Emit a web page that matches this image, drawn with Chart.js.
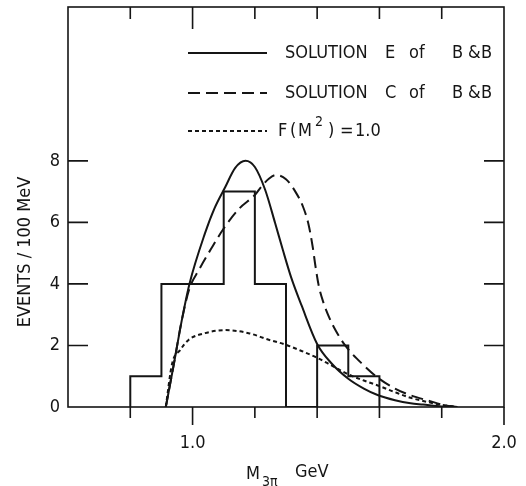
<!DOCTYPE html>
<html lang="en">
<head>
  <meta charset="UTF-8" />
  <title>Events / 100 MeV vs M3pi</title>
  <script src="https://cdn.jsdelivr.net/npm/chart.js"></script>
  <style>
    html, body { margin: 0; padding: 0; background: #fff; }
    #wrap { width: 526px; height: 486px; position: relative; }
  </style>
</head>
<body>
  <div id="wrap"><canvas id="chart"></canvas></div>

  <script>
    // histogram: bin start edges and counts (last entry closes the outline)
    const binEdges = [0.8, 0.8, 0.9, 1.0, 1.1, 1.2, 1.3, 1.4, 1.5, 1.6];
    const binCounts = [0, 1, 4, 4, 7, 4, 0, 2, 1, 0];

    // solution E of B & B (solid)
    const solE_x = [0.914, 0.94, 0.965, 0.99, 1.04, 1.07, 1.105, 1.137, 1.17, 1.20, 1.233, 1.265, 1.29, 1.316, 1.35, 1.40, 1.445, 1.50, 1.55, 1.594, 1.65, 1.70, 1.74, 1.80, 1.83];
    const solE_y = [0, 1.4, 2.8, 4.0, 5.65, 6.45, 7.15, 7.77, 8.0, 7.8, 7.06, 5.98, 5.1, 4.23, 3.3, 2.05, 1.43, 0.92, 0.6, 0.39, 0.22, 0.12, 0.08, 0.02, 0];

    // solution C of B & B (dashed)
    const solC_x = [0.914, 0.94, 0.965, 0.99, 1.02, 1.06, 1.10, 1.15, 1.20, 1.22, 1.245, 1.268, 1.30, 1.33, 1.355, 1.372, 1.385, 1.395, 1.405, 1.42, 1.44, 1.46, 1.49, 1.55, 1.594, 1.65, 1.70, 1.76, 1.80, 1.85];
    const solC_y = [0, 1.4, 2.8, 3.85, 4.45, 5.15, 5.8, 6.45, 6.89, 7.15, 7.42, 7.54, 7.4, 7.0, 6.5, 5.95, 5.25, 4.55, 3.95, 3.4, 2.88, 2.48, 2.0, 1.35, 0.96, 0.6, 0.38, 0.2, 0.08, 0];

    // F(M^2) = 1.0 (dotted)
    const flat_x = [0.914, 0.934, 0.96, 0.987, 1.04, 1.105, 1.18, 1.24, 1.30, 1.35, 1.40, 1.45, 1.50, 1.55, 1.60, 1.65, 1.70, 1.76, 1.80, 1.85];
    const flat_y = [0, 1.4, 1.85, 2.18, 2.4, 2.5, 2.4, 2.2, 2.02, 1.82, 1.6, 1.33, 1.06, 0.86, 0.68, 0.48, 0.3, 0.15, 0.07, 0];

    const yTicks = [2, 4, 6, 8];
    const xTicksTop = [0.8, 1.0, 1.2, 1.4, 1.6, 1.8];
    const xTicksBottom = [0.8, 1.0, 1.2, 1.4, 1.6, 1.8, 2.0];
    const xLabelled = [1.0, 2.0];

    const INK = '#151515';
    const FONT = '"DejaVu Sans Condensed", "Liberation Sans Narrow", "DejaVu Sans", sans-serif';

    function pts(xs, ys) {
      return xs.map((x, i) => ({ x: x, y: ys[i] }));
    }

    const frame = {
      id: 'frame',
      afterDraw(chart) {
        const { ctx, chartArea: a, scales: { x, y } } = chart;
        ctx.save();
        ctx.strokeStyle = INK;
        ctx.lineWidth = 1.6;
        ctx.strokeRect(a.left, a.top, a.right - a.left, a.bottom - a.top);

        ctx.beginPath();
        yTicks.forEach(v => {
          const py = y.getPixelForValue(v);
          ctx.moveTo(a.left, py); ctx.lineTo(a.left + 20, py);
          ctx.moveTo(a.right, py); ctx.lineTo(a.right - 20, py);
        });
        xTicksTop.forEach(v => {
          const px = x.getPixelForValue(v);
          const len = Math.abs(v - 1) < 1e-6 ? 22 : 12;
          ctx.moveTo(px, a.top); ctx.lineTo(px, a.top + len);
        });
        xTicksBottom.forEach(v => {
          const px = x.getPixelForValue(v);
          const len = xLabelled.some(l => Math.abs(l - v) < 1e-6) ? 18 : 11;
          ctx.moveTo(px, a.bottom); ctx.lineTo(px, a.bottom + len);
        });
        ctx.stroke();

        // legend
        const rows = [
          { y: 53, dash: [], words: [['SOLUTION', 285], ['E', 385], ['of', 409], ['B', 452], ['&', 468], ['B', 481]] },
          { y: 93, dash: [12, 6], words: [['SOLUTION', 285], ['C', 385], ['of', 409], ['B', 452], ['&', 468], ['B', 481]] },
          { y: 131, dash: [4, 3], words: [] }
        ];
        ctx.fillStyle = INK;
        ctx.font = '18px ' + FONT;
        ctx.textBaseline = 'middle';
        ctx.textAlign = 'left';
        rows.forEach(r => {
          ctx.setLineDash(r.dash);
          ctx.lineWidth = 2;
          ctx.beginPath();
          ctx.moveTo(188, r.y); ctx.lineTo(267, r.y);
          ctx.stroke();
          r.words.forEach(w => ctx.fillText(w[0], w[1], r.y));
        });
        ctx.setLineDash([]);
        ctx.fillText('F', 278, 131);
        ctx.fillText('(', 290, 131);
        ctx.fillText('M', 298, 131);
        ctx.font = '14px ' + FONT;
        ctx.fillText('2', 315, 122);
        ctx.font = '18px ' + FONT;
        ctx.fillText(')', 328, 131);
        ctx.fillText('=', 340, 131);
        ctx.fillText('1.0', 355, 131);

        // axis titles
        ctx.fillText('M', 246, 474);
        ctx.font = '14px ' + FONT;
        ctx.fillText('3\u03c0', 262, 482);
        ctx.font = '18px ' + FONT;
        ctx.fillText('GeV', 295, 472);

        ctx.save();
        ctx.translate(25, 252);
        ctx.rotate(-Math.PI / 2);
        ctx.textAlign = 'center';
        ctx.fillText('EVENTS / 100 MeV', 0, 0);
        ctx.restore();

        ctx.restore();
      }
    };

    const lineStyle = { borderColor: INK, borderWidth: 2, pointRadius: 0, fill: false };

    new Chart(document.getElementById('chart'), {
      type: 'line',
      data: {
        datasets: [
          Object.assign({ label: 'Data', data: pts(binEdges, binCounts), stepped: 'before' }, lineStyle),
          Object.assign({ label: 'SOLUTION E of B & B', data: pts(solE_x, solE_y), cubicInterpolationMode: 'monotone' }, lineStyle),
          Object.assign({ label: 'SOLUTION C of B & B', data: pts(solC_x, solC_y), cubicInterpolationMode: 'monotone', borderDash: [12, 6] }, lineStyle),
          Object.assign({ label: 'F(M2)=1.0', data: pts(flat_x, flat_y), cubicInterpolationMode: 'monotone', borderDash: [4, 3] }, lineStyle)
        ]
      },
      options: {
        responsive: true,
        maintainAspectRatio: false,
        animation: false,
        layout: { padding: { top: 7, right: 22, left: 0, bottom: 0 } },
        plugins: { legend: { display: false }, tooltip: { enabled: false } },
        scales: {
          x: {
            type: 'linear',
            min: 0.6,
            max: 2.0,
            grid: { display: false, drawTicks: false },
            border: { display: false },
            afterFit(s) { s.height = 79; s.paddingLeft = 0; s.paddingRight = 0; },
            ticks: {
              stepSize: 0.2,
              autoSkip: false,
              maxRotation: 0,
              padding: 26,
              color: INK,
              font: { family: FONT, size: 18 },
              callback: v => {
                if (Math.abs(v - 1) < 1e-6) return '1.0';
                if (Math.abs(v - 2) < 1e-6) return '2.0';
                return '';
              }
            }
          },
          y: {
            min: 0,
            max: 13,
            grid: { display: false, drawTicks: false },
            border: { display: false },
            afterFit(s) { s.width = 68; s.paddingTop = 0; s.paddingBottom = 0; },
            ticks: {
              stepSize: 2,
              padding: 8,
              color: INK,
              font: { family: FONT, size: 18 },
              callback: v => (v <= 8 ? v : '')
            }
          }
        }
      },
      plugins: [frame]
    });
  </script>
</body>
</html>
